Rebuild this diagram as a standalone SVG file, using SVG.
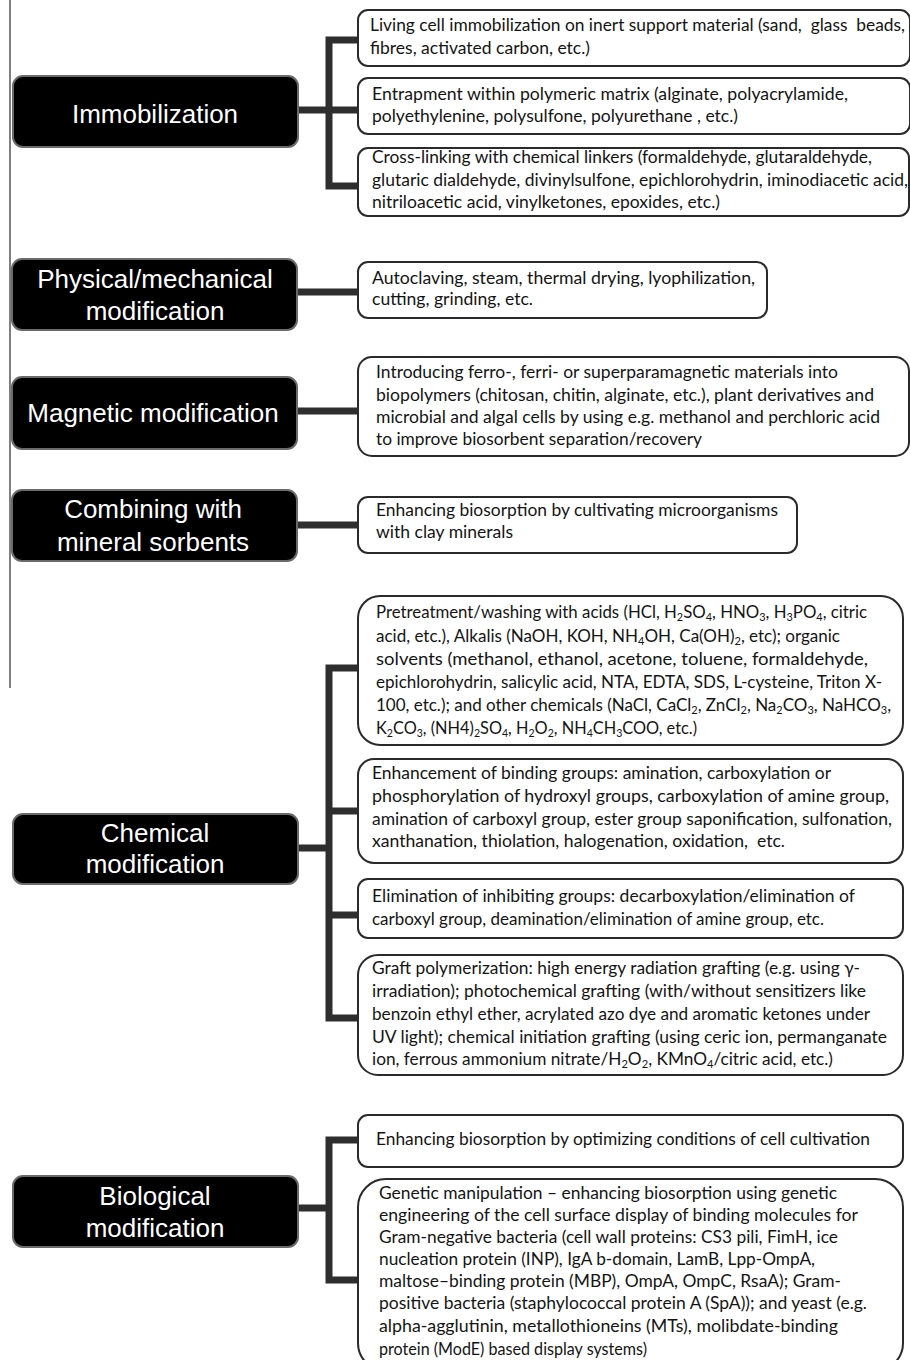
<svg xmlns="http://www.w3.org/2000/svg" width="910" height="1360" viewBox="0 0 910 1360">
<style>
.hub rect{fill:#000;stroke:#6a6a6a;stroke-width:2}
.hub text{fill:#fff;font-family:"Liberation Sans",Arial,sans-serif;font-size:26px;text-anchor:middle}
.leaf rect{fill:#fff;stroke:#2a2a2a;stroke-width:2}
.leaf text{fill:#141414;font-family:Lato,"Open Sans",sans-serif;font-size:17px;white-space:pre}
.s{font-size:11px}
.conn path{fill:none;stroke:#2e2e2e;stroke-width:7;stroke-linejoin:miter;stroke-linecap:butt}
</style>
<rect x="0" y="0" width="910" height="1360" fill="#fff"/>
<line x1="10" y1="0" x2="10" y2="688" stroke="#555" stroke-width="1.5"/>

<g class="conn" id="connectors">
<path d="M298,110 H358 M358,40 H329 V186 H358"/>
<path d="M297,292 H358"/>
<path d="M297,411 H358"/>
<path d="M297,525 H358"/>
<path d="M298,848 H329 M358,668 H329 V1018 H358 M329,811 H358 M329,915 H358"/>
<path d="M298,1208 H329 M358,1140 H329 V1280 H358"/>
</g>

<g class="hub" id="n-immobilization"><rect x="13" y="76" width="285" height="71" rx="10"/><text x="155" y="123">Immobilization</text></g>
<g class="hub" id="n-physical"><rect x="12" y="259" width="285" height="71" rx="10"/><text x="155" y="288">Physical/mechanical</text><text x="155" y="320">modification</text></g>
<g class="hub" id="n-magnetic"><rect x="12" y="377" width="285" height="72" rx="10"/><text x="153" y="422">Magnetic modification</text></g>
<g class="hub" id="n-combining"><rect x="12" y="490" width="285" height="71" rx="10"/><text x="153" y="518">Combining with</text><text x="153" y="551">mineral sorbents</text></g>
<g class="hub" id="n-chemical"><rect x="13" y="814" width="285" height="70" rx="10"/><text x="155" y="842">Chemical</text><text x="155" y="873">modification</text></g>
<g class="hub" id="n-biological"><rect x="13" y="1176" width="285" height="71" rx="10"/><text x="155" y="1205">Biological</text><text x="155" y="1237">modification</text></g>

<g class="leaf" id="l-immob-1"><rect x="358" y="10" width="552" height="56" rx="10"/>
<text x="370" y="31" textLength="535" lengthAdjust="spacingAndGlyphs">Living cell immobilization on inert support material (sand,  glass  beads,</text>
<text x="370" y="54" textLength="220" lengthAdjust="spacingAndGlyphs">fibres, activated carbon, etc.)</text></g>
<g class="leaf" id="l-immob-2"><rect x="358" y="78" width="552" height="56" rx="10"/>
<text x="372" y="100" textLength="476" lengthAdjust="spacingAndGlyphs">Entrapment within polymeric matrix (alginate, polyacrylamide,</text>
<text x="372" y="122" textLength="366" lengthAdjust="spacingAndGlyphs">polyethylenine, polysulfone, polyurethane , etc.)</text></g>
<g class="leaf" id="l-immob-3"><rect x="358" y="148" width="551" height="68" rx="10"/>
<text x="372" y="163" textLength="500" lengthAdjust="spacingAndGlyphs">Cross-linking with chemical linkers (formaldehyde, glutaraldehyde,</text>
<text x="372" y="186" textLength="536" lengthAdjust="spacingAndGlyphs">glutaric dialdehyde, divinylsulfone, epichlorohydrin, iminodiacetic acid,</text>
<text x="372" y="208" textLength="348" lengthAdjust="spacingAndGlyphs">nitriloacetic acid, vinylketones, epoxides, etc.)</text></g>

<g class="leaf" id="l-physical"><rect x="358" y="262" width="409" height="56" rx="10"/>
<text x="372" y="284" textLength="383" lengthAdjust="spacingAndGlyphs">Autoclaving, steam, thermal drying, lyophilization,</text>
<text x="372" y="305" textLength="161" lengthAdjust="spacingAndGlyphs">cutting, grinding, etc.</text></g>

<g class="leaf" id="l-magnetic"><rect x="358" y="357" width="551" height="99" rx="14"/>
<text x="376" y="378" textLength="462" lengthAdjust="spacingAndGlyphs">Introducing ferro-, ferri- or superparamagnetic materials into</text>
<text x="376" y="401" textLength="498" lengthAdjust="spacingAndGlyphs">biopolymers (chitosan, chitin, alginate, etc.), plant derivatives and</text>
<text x="376" y="423" textLength="504" lengthAdjust="spacingAndGlyphs">microbial and algal cells by using e.g. methanol and perchloric acid</text>
<text x="376" y="445" textLength="326" lengthAdjust="spacingAndGlyphs">to improve biosorbent separation/recovery</text></g>

<g class="leaf" id="l-combining"><rect x="358" y="497" width="439" height="56" rx="10"/>
<text x="376" y="516" textLength="402" lengthAdjust="spacingAndGlyphs">Enhancing biosorption by cultivating microorganisms</text>
<text x="376" y="538" textLength="137" lengthAdjust="spacingAndGlyphs">with clay minerals</text></g>

<g class="leaf" id="l-chem-1"><rect x="358" y="596" width="545" height="149" rx="22"/>
<text x="376" y="618" textLength="491" lengthAdjust="spacingAndGlyphs">Pretreatment/washing with acids (HCl, H<tspan class="s" dy="3">2</tspan><tspan dy="-3">SO</tspan><tspan class="s" dy="3">4</tspan><tspan dy="-3">, HNO</tspan><tspan class="s" dy="3">3</tspan><tspan dy="-3">, H</tspan><tspan class="s" dy="3">3</tspan><tspan dy="-3">PO</tspan><tspan class="s" dy="3">4</tspan><tspan dy="-3">, citric</tspan></text>
<text x="376" y="642" textLength="464" lengthAdjust="spacingAndGlyphs">acid, etc.), Alkalis (NaOH, KOH, NH<tspan class="s" dy="3">4</tspan><tspan dy="-3">OH, Ca(OH)</tspan><tspan class="s" dy="3">2</tspan><tspan dy="-3">, etc); organic</tspan></text>
<text x="376" y="665" textLength="492" lengthAdjust="spacingAndGlyphs">solvents (methanol, ethanol, acetone, toluene, formaldehyde,</text>
<text x="376" y="688" textLength="506" lengthAdjust="spacingAndGlyphs">epichlorohydrin, salicylic acid, NTA, EDTA, SDS, L-cysteine, Triton X-</text>
<text x="376" y="711" textLength="515" lengthAdjust="spacingAndGlyphs">100, etc.); and other chemicals (NaCl, CaCl<tspan class="s" dy="3">2</tspan><tspan dy="-3">, ZnCl</tspan><tspan class="s" dy="3">2</tspan><tspan dy="-3">, Na</tspan><tspan class="s" dy="3">2</tspan><tspan dy="-3">CO</tspan><tspan class="s" dy="3">3</tspan><tspan dy="-3">, NaHCO</tspan><tspan class="s" dy="3">3</tspan><tspan dy="-3">,</tspan></text>
<text x="376" y="734" textLength="321" lengthAdjust="spacingAndGlyphs">K<tspan class="s" dy="3">2</tspan><tspan dy="-3">CO</tspan><tspan class="s" dy="3">3</tspan><tspan dy="-3">, (NH4)</tspan><tspan class="s" dy="3">2</tspan><tspan dy="-3">SO</tspan><tspan class="s" dy="3">4</tspan><tspan dy="-3">, H</tspan><tspan class="s" dy="3">2</tspan><tspan dy="-3">O</tspan><tspan class="s" dy="3">2</tspan><tspan dy="-3">, NH</tspan><tspan class="s" dy="3">4</tspan><tspan dy="-3">CH</tspan><tspan class="s" dy="3">3</tspan><tspan dy="-3">COO, etc.)</tspan></text></g>

<g class="leaf" id="l-chem-2"><rect x="358" y="759" width="545" height="104" rx="16"/>
<text x="372" y="779" textLength="459" lengthAdjust="spacingAndGlyphs">Enhancement of binding groups: amination, carboxylation or</text>
<text x="372" y="802" textLength="517" lengthAdjust="spacingAndGlyphs">phosphorylation of hydroxyl groups, carboxylation of amine group,</text>
<text x="372" y="825" textLength="520" lengthAdjust="spacingAndGlyphs">amination of carboxyl group, ester group saponification, sulfonation,</text>
<text x="372" y="847" textLength="413" lengthAdjust="spacingAndGlyphs">xanthanation, thiolation, halogenation, oxidation,  etc.</text></g>

<g class="leaf" id="l-chem-3"><rect x="358" y="879" width="545" height="59" rx="10"/>
<text x="372" y="902" textLength="483" lengthAdjust="spacingAndGlyphs">Elimination of inhibiting groups: decarboxylation/elimination of</text>
<text x="372" y="925" textLength="452" lengthAdjust="spacingAndGlyphs">carboxyl group, deamination/elimination of amine group, etc.</text></g>

<g class="leaf" id="l-chem-4"><rect x="358" y="955" width="545" height="120" rx="20"/>
<text x="372" y="974" textLength="488" lengthAdjust="spacingAndGlyphs">Graft polymerization: high energy radiation grafting (e.g. using γ-</text>
<text x="372" y="997" textLength="494" lengthAdjust="spacingAndGlyphs">irradiation); photochemical grafting (with/without sensitizers like</text>
<text x="372" y="1020" textLength="498" lengthAdjust="spacingAndGlyphs">benzoin ethyl ether, acrylated azo dye and aromatic ketones under</text>
<text x="372" y="1043" textLength="515" lengthAdjust="spacingAndGlyphs">UV light); chemical initiation grafting (using ceric ion, permanganate</text>
<text x="372" y="1065" textLength="461" lengthAdjust="spacingAndGlyphs">ion, ferrous ammonium nitrate/H<tspan class="s" dy="3">2</tspan><tspan dy="-3">O</tspan><tspan class="s" dy="3">2</tspan><tspan dy="-3">, KMnO</tspan><tspan class="s" dy="3">4</tspan><tspan dy="-3">/citric acid, etc.)</tspan></text></g>

<g class="leaf" id="l-bio-1"><rect x="358" y="1115" width="545" height="52" rx="10"/>
<text x="376" y="1145" textLength="494" lengthAdjust="spacingAndGlyphs">Enhancing biosorption by optimizing conditions of cell cultivation</text></g>

<g class="leaf" id="l-bio-2"><rect x="358" y="1179" width="545" height="192" rx="28"/>
<text x="379" y="1199" textLength="458" lengthAdjust="spacingAndGlyphs">Genetic manipulation – enhancing biosorption using genetic</text>
<text x="379" y="1221" textLength="479" lengthAdjust="spacingAndGlyphs">engineering of the cell surface display of binding molecules for</text>
<text x="379" y="1243" textLength="459" lengthAdjust="spacingAndGlyphs">Gram-negative bacteria (cell wall proteins: CS3 pili, FimH, ice</text>
<text x="379" y="1265" textLength="436" lengthAdjust="spacingAndGlyphs">nucleation protein (INP), IgA b-domain, LamB, Lpp-OmpA,</text>
<text x="379" y="1287" textLength="462" lengthAdjust="spacingAndGlyphs">maltose–binding protein (MBP), OmpA, OmpC, RsaA); Gram-</text>
<text x="379" y="1309" textLength="488" lengthAdjust="spacingAndGlyphs">positive bacteria (staphylococcal protein A (SpA)); and yeast (e.g.</text>
<text x="379" y="1332" textLength="459" lengthAdjust="spacingAndGlyphs">alpha-agglutinin, metallothioneins (MTs), molibdate-binding</text>
<text x="379" y="1355" textLength="268" lengthAdjust="spacingAndGlyphs">protein (ModE) based display systems)</text></g>
</svg>
